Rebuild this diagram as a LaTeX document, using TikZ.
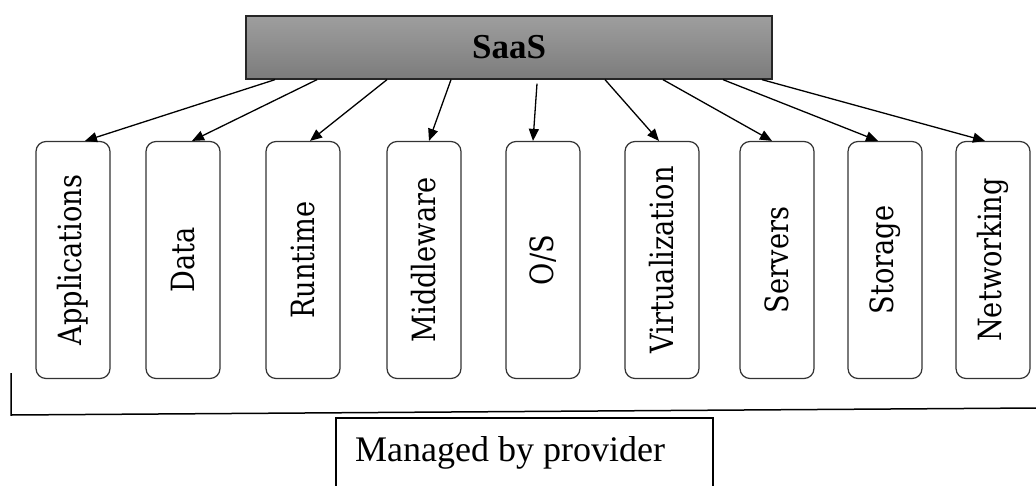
\documentclass[tikz,border=0pt]{standalone}
\usepackage{fontspec}
\usepackage{graphicx}
\setmainfont{Liberation Serif}
\newfontfamily\slabfont[FakeStretch=0.85]{DejaVu Serif}
\usetikzlibrary{arrows.meta}
\definecolor{saastop}{RGB}{158,158,158}
\definecolor{saasbot}{RGB}{124,124,124}
\begin{document}
\begin{tikzpicture}[
			x=1pt, y=-1pt,
			saasbox/.style={draw=black!85, line width=1.3pt, top color=saastop, bottom color=saasbot,
					minimum width=526pt, minimum height=63pt, inner sep=0pt,
					font=\fontsize{35}{40}\selectfont\bfseries},
			layer/.style={draw=black!80, line width=1.2pt, rounded corners=10pt, fill=white,
					minimum width=74pt, minimum height=237pt, inner sep=0pt,
					font=\fontsize{32}{36}\slabfont},
			feed/.style={-{Triangle[length=12pt,width=10pt]}, line width=1.3pt}
		]
		\useasboundingbox (0,0) rectangle (1036,485);

		\node[saasbox] (saas) at (509,47.5) {SaaS};

		\node[layer] (app) at (73,260) {\rotatebox{90}{Applications}};
		\node[layer] (data) at (183,260) {\rotatebox{90}{Data}};
		\node[layer] (run) at (303,260) {\rotatebox{90}{Runtime}};
		\node[layer] (mid) at (424,260) {\rotatebox{90}{Middleware}};
		\node[layer] (os) at (543,260) {\rotatebox{90}{O/S}};
		\node[layer] (virt) at (662,260) {\rotatebox{90}{Virtualization}};
		\node[layer] (serv) at (777,260) {\rotatebox{90}{Servers}};
		\node[layer] (stor) at (885,260) {\rotatebox{90}{Storage}};
		\node[layer] (net) at (993,260) {\rotatebox{90}{Networking}};

		\draw[feed] ([xshift=-234pt]saas.south) -- ([xshift=12pt]app.north);
		\draw[feed] ([xshift=-192pt]saas.south) -- ([xshift=9pt]data.north);
		\draw[feed] ([xshift=-122pt]saas.south) -- ([xshift=7pt]run.north);
		\draw[feed] ([xshift=-58pt]saas.south) -- ([xshift=5pt]mid.north);
		\draw[feed] ([xshift=28pt,yshift=-4pt]saas.south) -- ([xshift=-10pt]os.north);
		\draw[feed] ([xshift=96pt]saas.south) -- ([xshift=-3pt]virt.north);
		\draw[feed] ([xshift=154pt]saas.south) -- ([xshift=-5pt]serv.north);
		\draw[feed] ([xshift=214pt]saas.south) -- ([xshift=-7pt]stor.north);
		\draw[feed] ([xshift=253pt]saas.south) -- ([xshift=-8pt]net.north);

		% bracket under the layers
		\draw[line width=1.5pt] (11,373) -- (11,415) -- (1036,408);

		\node[anchor=base west, inner sep=0pt, font=\fontsize{36}{40}\selectfont] (mgr) at (355,461) {Managed by provider};
		\draw[line width=1.3pt] (336,486) -- (336,418) -- (713,418) -- (713,486);
	\end{tikzpicture}
\end{document}
